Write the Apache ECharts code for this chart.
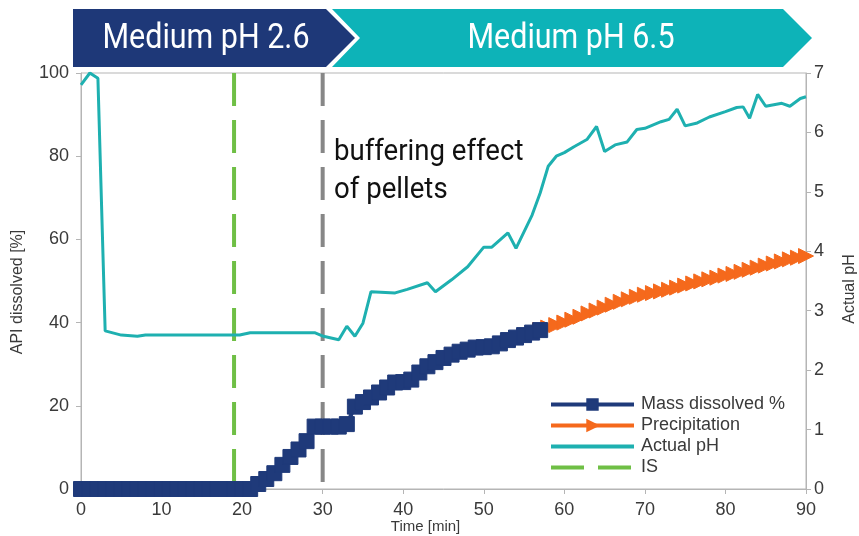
<!DOCTYPE html>
<html>
<head>
<meta charset="utf-8">
<script src="https://cdn.jsdelivr.net/npm/echarts@6/dist/echarts.min.js"></script>
<style>
  html, body { margin: 0; padding: 0; background: #fff; }
  #chart { width: 859px; height: 536px; }
</style>
</head>
<body>
<div id="chart"></div>
<script>
// time axis [min], left axis [% dissolved], right axis [pH]

// Mass dissolved % (navy squares)
const massTime = [0, 1, 2, 3, 4, 5, 6, 7, 8, 9, 10, 11, 12, 13, 14, 15, 16, 17, 18, 19, 20, 21,
  22, 23, 24, 25, 26, 27, 28, 29, 30, 31, 32, 33, 34, 35, 36, 37, 38, 39, 40,
  41, 42, 43, 44, 45, 46, 47, 48, 49, 50, 51, 52, 53, 54, 55, 56, 57];
const massValue = [0, 0, 0, 0, 0, 0, 0, 0, 0, 0, 0, 0, 0, 0, 0, 0, 0, 0, 0, 0, 0, 0,
  1.2, 2.4, 3.8, 5.8, 7.7, 9.5, 11.5, 15, 15, 15, 15, 15.6, 19.8, 20.9, 22, 23.2, 24.4, 25.6, 25.7,
  26.3, 28, 29.5, 30.5, 31.5, 32.3, 33, 33.5, 34, 34.1, 34.3, 35, 35.8, 36.4, 37, 37.6, 38.2];

// Precipitation (orange triangles)
const precipTime = [57, 58, 59, 60, 61, 62, 63, 64, 65, 66, 67, 68, 69, 70, 71, 72, 73,
  74, 75, 76, 77, 78, 79, 80, 81, 82, 83, 84, 85, 86, 87, 88, 89, 90];
const precipValue = [38.2, 38.8, 39.4, 40.0, 40.7, 41.4, 42.2, 42.9, 43.6, 44.3, 45.0, 45.6, 46.2, 46.7, 47.1, 47.5, 47.9,
  48.4, 48.9, 49.4, 49.9, 50.4, 50.8, 51.3, 51.7, 52.2, 52.7, 53.2, 53.7, 54.2, 54.7, 55.2, 55.6, 56.0];

// Actual pH (teal line, right axis)
const phTime = [0, 1.1, 2.1, 3, 5, 7, 8, 19.7, 21, 29, 30.1, 32, 33, 34, 35, 36, 39, 40.5, 43, 44,
  46, 48, 50, 51, 53, 54, 56, 57, 58, 59, 60, 61.2, 62.8, 64, 65, 66.3, 67.8, 69, 70, 72,
  73, 74, 75, 76.5, 78, 80, 81.4, 82.2, 83, 84, 85, 87, 88, 89.3, 90];
const phValue = [6.8, 7.0, 6.91, 2.66, 2.59, 2.57, 2.59, 2.59, 2.63, 2.63, 2.57, 2.51, 2.74, 2.57, 2.79, 3.32, 3.30, 3.36, 3.47, 3.32,
  3.52, 3.74, 4.07, 4.07, 4.31, 4.05, 4.61, 4.98, 5.43, 5.60, 5.66, 5.76, 5.88, 6.10, 5.68, 5.79, 5.84, 6.05, 6.07, 6.18,
  6.22, 6.39, 6.11, 6.16, 6.26, 6.35, 6.42, 6.43, 6.24, 6.64, 6.44, 6.49, 6.44, 6.57, 6.6];

// vertical markers
const isTime = 19;
const bufferTime = 30;

const phases = ['Medium pH 2.6', 'Medium pH 6.5'];
const note = ['buffering effect', 'of pellets'];

const NAVY = '#1f3a7a';
const TEAL = '#1eb0b0';
const ORANGE = '#f5691c';
const GREEN = '#6fbf45';
const GREY = '#878787';
const AXIS = '#b5b5b5';
const TXT = '#3a3a3a';

const zip = (a, b) => a.map((v, i) => [v, b[i]]);

const chart = echarts.init(document.getElementById('chart'));

const option = {
  animation: false,
  textStyle: { fontFamily: 'Liberation Sans' },
  grid: { left: 81, right: 53, top: 73, bottom: 47, outerBoundsMode: 'none', containLabel: false,
    show: true, borderColor: AXIS, borderWidth: 1 },
  legend: {
    left: 549, top: 394, orient: 'vertical', padding: 0,
    itemWidth: 83, itemHeight: 13, itemGap: 0,
    textStyle: { fontSize: 18, color: TXT, lineHeight: 21, padding: [0, 0, 0, 2] },
    data: [
      { name: 'Mass dissolved %', lineStyle: { width: 4 } },
      { name: 'Precipitation', lineStyle: { width: 4 } },
      { name: 'Actual pH', lineStyle: { width: 4 }, itemStyle: { opacity: 0 } },
      { name: 'IS', lineStyle: { width: 4 }, itemStyle: { opacity: 0 } }
    ]
  },
  xAxis: {
    type: 'value', min: 0, max: 90, interval: 10,
    name: 'Time [min]', nameLocation: 'middle', nameGap: 30, nameMoveOverlap: false,
    nameTextStyle: { fontSize: 15, color: TXT, padding: [0, 36, 0, 0] },
    axisLine: { lineStyle: { color: AXIS } },
    axisTick: { lineStyle: { color: AXIS }, length: 5 },
    axisLabel: { fontSize: 18, color: TXT, margin: 12 },
    splitLine: { show: false }
  },
  yAxis: [{
    type: 'value', min: 0, max: 100, interval: 20,
    name: 'API dissolved [%]', nameLocation: 'middle', nameGap: 55, nameRotate: 90,
    nameTextStyle: { fontSize: 16, color: TXT, padding: [0, 22, 0, 0] },
    axisLine: { show: true, lineStyle: { color: AXIS } },
    axisTick: { show: true, lineStyle: { color: AXIS }, length: 5 },
    axisLabel: { fontSize: 18, color: TXT, margin: 12 },
    splitLine: { show: false }
  }, {
    type: 'value', min: 0, max: 7, interval: 1, position: 'right',
    name: 'Actual pH', nameLocation: 'middle', nameGap: 36, nameRotate: 90,
    nameTextStyle: { fontSize: 16, color: TXT, padding: [0, 16, 0, 0] },
    axisLine: { show: true, lineStyle: { color: AXIS } },
    axisTick: { show: true, lineStyle: { color: AXIS }, length: 5 },
    axisLabel: { fontSize: 18, color: TXT, margin: 8 },
    splitLine: { show: false }
  }],
  series: [{
    name: 'IS', type: 'line', symbol: 'none', z: 1,
    data: [[isTime, 100], [isTime, 0]],
    lineStyle: { color: GREEN, width: 4, type: [33, 14] },
    itemStyle: { color: GREEN }
  }, {
    name: 'buffer', type: 'line', symbol: 'none', z: 1,
    data: [[bufferTime, 100], [bufferTime, 0]],
    lineStyle: { color: GREY, width: 4, type: [33, 14] },
    itemStyle: { color: GREY }
  }, {
    name: 'Actual pH', type: 'line', yAxisIndex: 1, symbol: 'none', z: 3,
    data: zip(phTime, phValue),
    lineStyle: { color: TEAL, width: 3 },
    itemStyle: { color: TEAL }
  }, {
    name: 'Precipitation', type: 'line', symbol: 'triangle', symbolSize: 15, symbolRotate: -90,
    showAllSymbol: true, z: 4,
    data: zip(precipTime, precipValue),
    lineStyle: { color: ORANGE, width: 4 },
    itemStyle: { color: ORANGE, borderColor: ORANGE, borderWidth: 1 }
  }, {
    name: 'Mass dissolved %', type: 'line', symbol: 'rect', symbolSize: 15,
    showAllSymbol: true, z: 5,
    data: zip(massTime, massValue),
    lineStyle: { color: NAVY, width: 4 },
    itemStyle: { color: NAVY, borderColor: NAVY, borderWidth: 1 }
  }],
  graphic: [{
    type: 'polygon', shape: { points: [[73, 9], [326, 9], [355, 38], [326, 67], [73, 67]] },
    style: { fill: '#1e3878' }
  }, {
    type: 'polygon', shape: { points: [[332, 9], [783, 9], [812, 38], [783, 67], [332, 67], [360, 38]] },
    style: { fill: '#0db3b8' }
  }, {
    type: 'text', x: 206, y: 39, scaleX: 0.87,
    style: { text: phases[0], fill: '#fff', fontSize: 35, fontFamily: 'Roboto', align: 'center', verticalAlign: 'middle' }
  }, {
    type: 'text', x: 571, y: 39, scaleX: 0.87,
    style: { text: phases[1], fill: '#fff', fontSize: 35, fontFamily: 'Roboto', align: 'center', verticalAlign: 'middle' }
  }, {
    type: 'text', x: 334, y: 152, scaleX: 0.92,
    style: { text: note[0], fill: '#111', fontSize: 30, fontFamily: 'Roboto', align: 'left', verticalAlign: 'middle' }
  }, {
    type: 'text', x: 334, y: 190, scaleX: 0.92,
    style: { text: note[1], fill: '#111', fontSize: 30, fontFamily: 'Roboto', align: 'left', verticalAlign: 'middle' }
  }]
};

chart.setOption(option);
</script>
</body>
</html>
